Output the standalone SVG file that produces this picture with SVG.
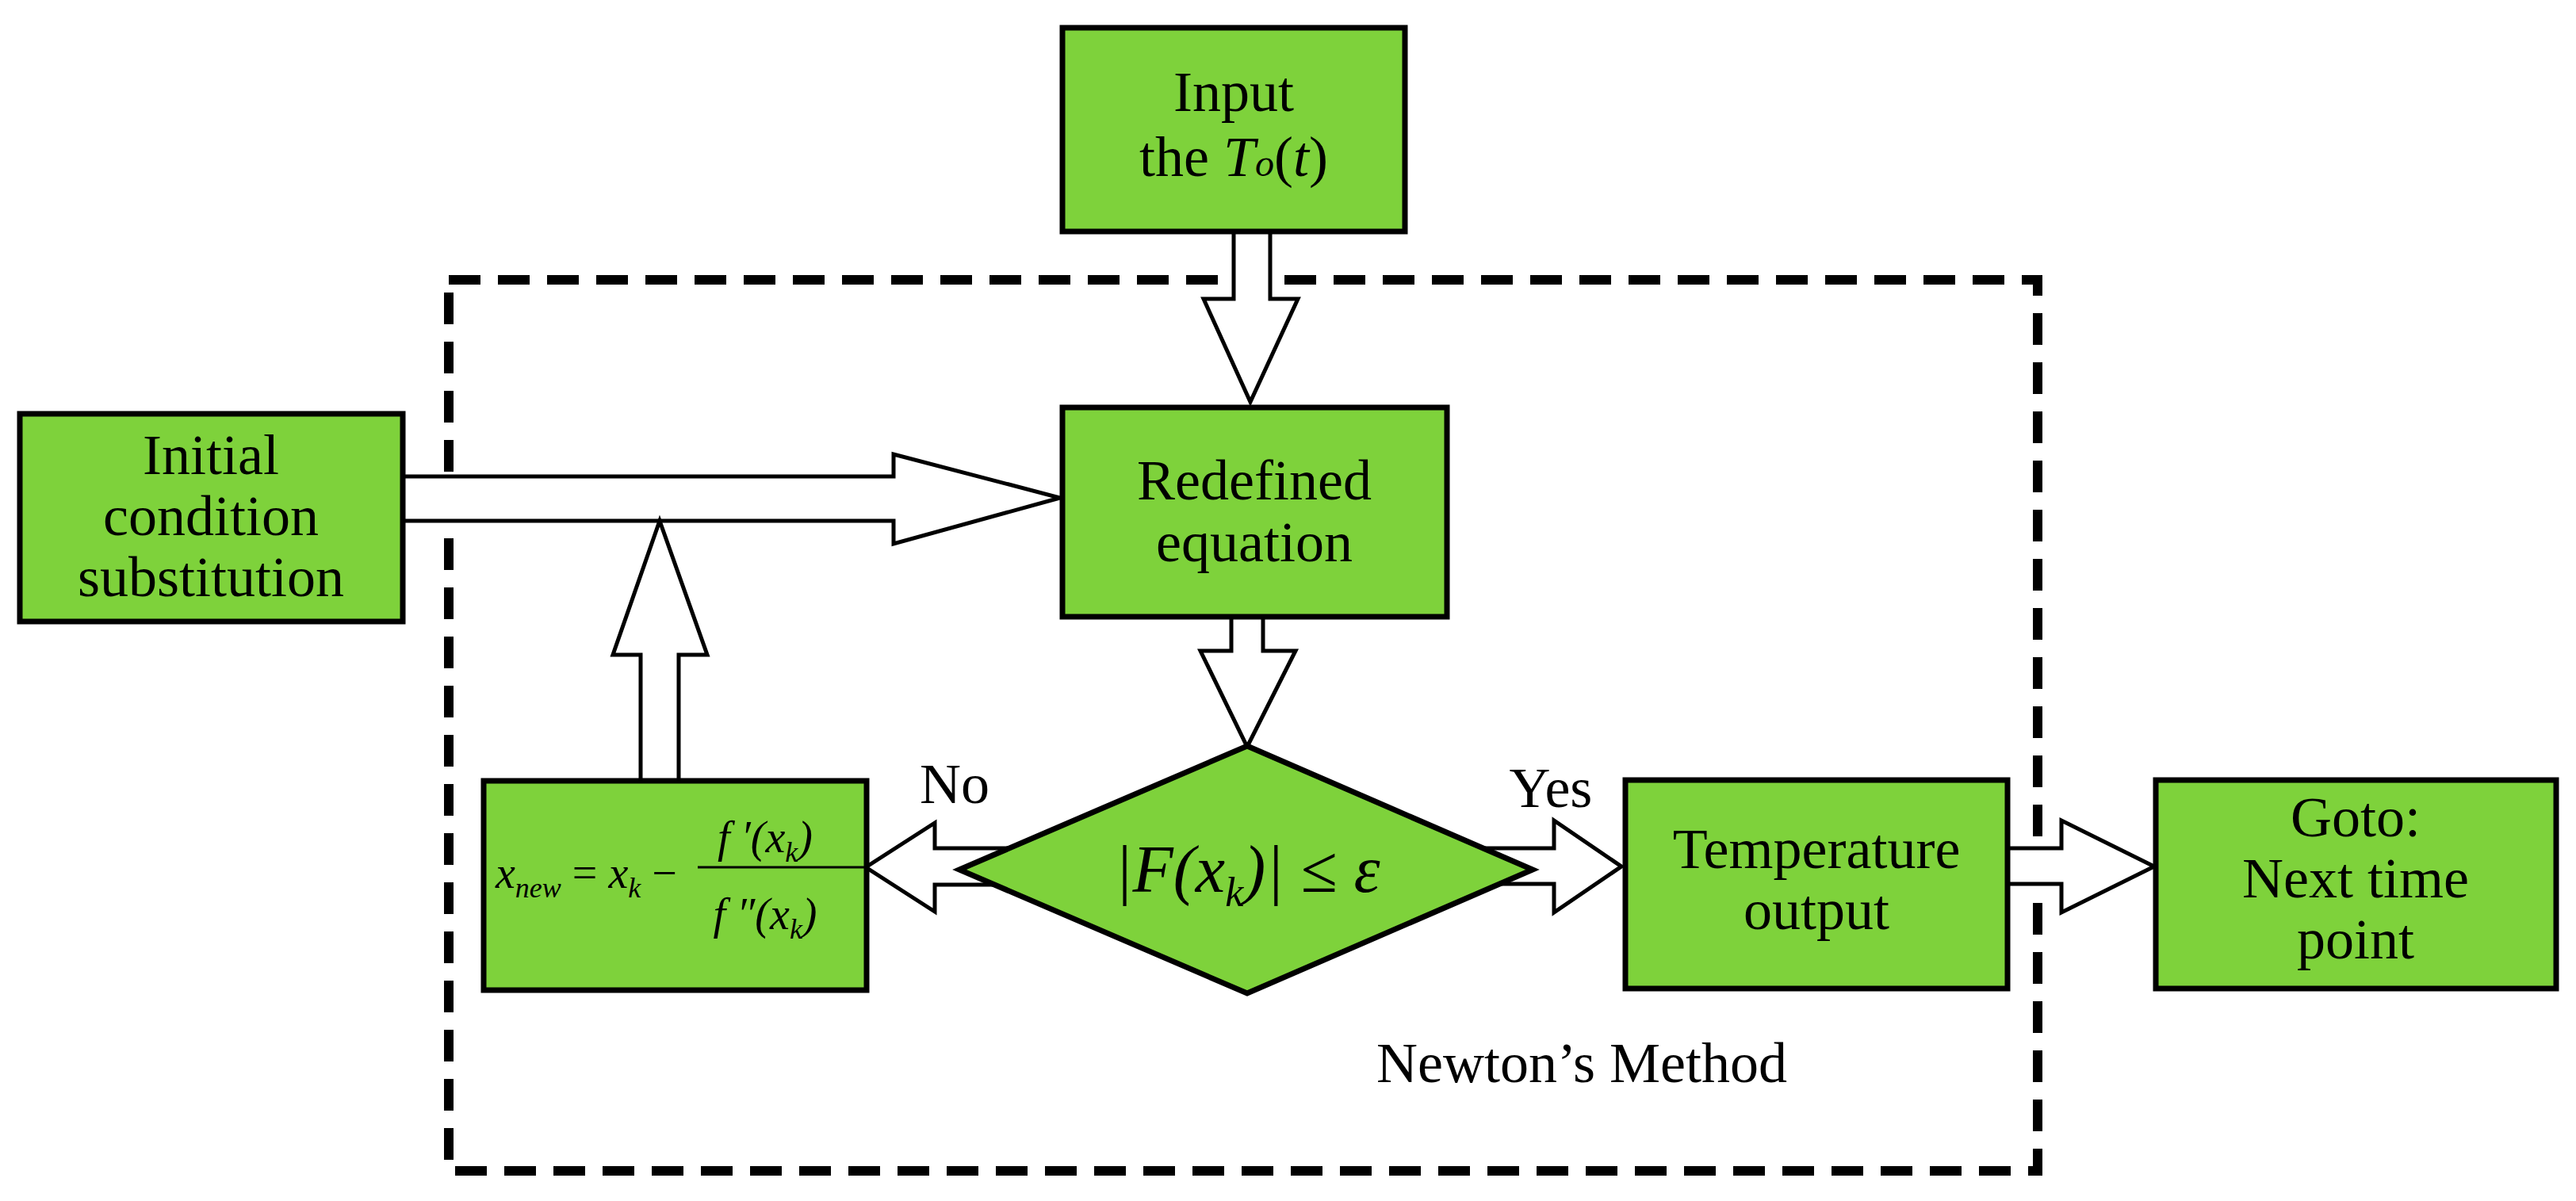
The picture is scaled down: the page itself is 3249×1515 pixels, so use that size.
<svg xmlns="http://www.w3.org/2000/svg" width="3249" height="1515" viewBox="0 0 3249 1515">
<style>
.box{fill:#7ed23b;stroke:#000;stroke-width:7}
.arr{fill:#fff;stroke:#000;stroke-width:5;stroke-linejoin:miter}
.t{font-family:"Liberation Serif",serif;font-size:72px;fill:#000;text-anchor:middle}
.m{font-family:"Liberation Serif",serif;font-style:italic;fill:#000}
</style>
<rect width="3249" height="1515" fill="#fff"/>
<rect x="566" y="353" width="2004" height="1124" fill="none" stroke="#000" stroke-width="12" stroke-dasharray="40,22"/>
<g id="connectors">
<path class="arr" d="M1556,292 V377 H1518 L1577,507 L1637,377 H1602 V292"/>
<path class="arr" d="M507,601 H1127 V573 L1337,628 L1127,686 V657 H507"/>
<path class="arr" d="M808,985 V826 H773 L832,657 L892,826 H856 V985"/>
<path class="arr" d="M1553,778 V821 H1514 L1573,942 L1634,821 H1593 V778"/>
<path class="arr" d="M1300,1070 H1179 V1038 L1092,1094 L1179,1150 V1116 H1300"/>
<path class="arr" d="M1850,1070 H1960 V1035 L2045,1093 L1960,1151 V1115 H1850"/>
<path class="arr" d="M2532,1070 H2600 V1035 L2717,1093 L2600,1151 V1115 H2532"/>
</g>
<g id="input"><rect class="box" x="1340" y="35" width="432" height="257"/>
<text class="t" x="1556" y="140">Input</text>
<text class="t" x="1556" y="222">the <tspan font-style="italic">T</tspan><tspan font-style="italic" font-size="48">o</tspan>(<tspan font-style="italic">t</tspan>)</text></g>
<g id="initial"><rect class="box" x="25" y="522" width="483" height="262"/>
<text class="t" x="266" y="598">Initial</text>
<text class="t" x="266" y="675">condition</text>
<text class="t" x="266" y="752">substitution</text></g>
<g id="redefined"><rect class="box" x="1340" y="514" width="485" height="264"/>
<text class="t" x="1582" y="630">Redefined</text>
<text class="t" x="1582" y="708">equation</text></g>
<g id="decision"><polygon class="box" points="1573,941 1933,1097 1573,1253 1210,1097"/>
<text class="m" x="1573" y="1125" font-size="84" text-anchor="middle" font-style="normal">|<tspan font-style="italic">F</tspan>(<tspan font-style="italic">x</tspan><tspan font-style="italic" font-size="52" dy="18">k</tspan><tspan dy="-18">)</tspan>| ≤ <tspan font-style="italic">ε</tspan></text></g>
<g id="newton"><rect class="box" x="610" y="985" width="483" height="264"/>
<text class="m" x="625" y="1120" font-size="56">x<tspan font-size="36" dy="12">new</tspan><tspan dy="-12" font-style="normal"> = </tspan>x<tspan font-size="36" dy="12">k</tspan><tspan dy="-12" font-style="normal"> − </tspan></text>
<text class="m" x="965" y="1075" font-size="56" text-anchor="middle">f ′(x<tspan font-size="36" dy="12">k</tspan><tspan dy="-12">)</tspan></text>
<line x1="880" y1="1094" x2="1090" y2="1094" stroke="#000" stroke-width="3"/>
<text class="m" x="965" y="1172" font-size="56" text-anchor="middle">f ″(x<tspan font-size="36" dy="12">k</tspan><tspan dy="-12">)</tspan></text></g>
<g id="temperature"><rect class="box" x="2050" y="984" width="482" height="263"/>
<text class="t" x="2291" y="1095">Temperature</text>
<text class="t" x="2291" y="1172">output</text></g>
<g id="goto"><rect class="box" x="2719" y="984" width="505" height="263"/>
<text class="t" x="2971" y="1055">Goto:</text>
<text class="t" x="2971" y="1132">Next time</text>
<text class="t" x="2971" y="1209">point</text></g>
<g id="labels">
<text class="t" x="1204" y="1013">No</text>
<text class="t" x="1956" y="1018">Yes</text>
<text class="t" x="1995" y="1365">Newton’s Method</text>
</g>
</svg>
